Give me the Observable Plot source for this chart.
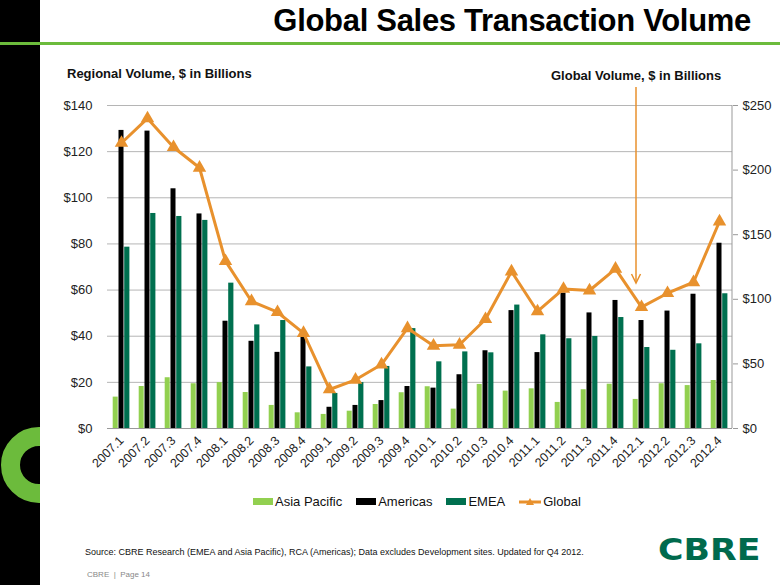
<!DOCTYPE html>
<html><head><meta charset="utf-8">
<script src="https://cdn.jsdelivr.net/npm/d3@7"></script>
<script src="https://cdn.jsdelivr.net/npm/@observablehq/plot@0.6"></script>
<style>
body{margin:0;width:780px;height:585px;overflow:hidden;background:#fff;font-family:"Liberation Sans",Arial,sans-serif;position:relative}
.abs{position:absolute}
#stripe{left:0;top:0;width:40px;height:585px;background:#000;overflow:hidden}
#greenline{left:0;top:42px;width:780px;height:3px;background:#6cbb3c}
#title{right:29px;top:3px;font-size:31px;font-weight:bold;color:#000;letter-spacing:-0.3px}
.lab{font-size:13px;font-weight:bold;color:#111}
#legend{top:494px;left:253px;display:flex;gap:0;font-size:13px;color:#111;align-items:center}
.item{display:flex;align-items:center;margin-right:14px}
.sw{width:20px;height:7px;margin-right:2px}
#source{left:85px;top:547px;font-size:9px;color:#111}
#page{left:87px;top:570px;font-size:8px;color:#888}
#logo{left:658px;top:531px;font-size:31px;font-weight:900;color:#006a4d;font-family:"DejaVu Sans",sans-serif;transform:scaleX(1.12);transform-origin:left top}
</style></head><body>
<div id="stripe" class="abs"><svg width="40" height="585"><circle cx="39" cy="465" r="28.5" fill="none" stroke="#6cbb3c" stroke-width="19"/></svg></div>
<div id="greenline" class="abs"></div>
<div id="title" class="abs">Global Sales Transaction Volume</div>
<div id="chart" class="abs" style="left:0;top:0"></div>
<div class="abs lab" style="left:67px;top:66px">Regional Volume, $ in Billions</div>
<div class="abs lab" style="left:551px;top:68px">Global Volume, $ in Billions</div>
<svg class="abs" style="left:0;top:0" width="780" height="585">
  <line x1="636" y1="87" x2="636" y2="283" stroke="#E8912D" stroke-width="1.5"/>
  <polyline points="631.5,274 636,283 640.5,274" fill="none" stroke="#E8912D" stroke-width="1.5"/>
</svg>
<div id="legend" class="abs"></div>
<div id="source" class="abs">Source: CBRE Research (EMEA and Asia Pacific), RCA (Americas); Data excludes Development sites. Updated for Q4 2012.</div>
<div id="page" class="abs">CBRE &nbsp;|&nbsp; Page 14</div>
<div id="logo" class="abs">CBRE</div>
<script>
const quarters = ["2007.1","2007.2","2007.3","2007.4","2008.1","2008.2","2008.3","2008.4","2009.1","2009.2","2009.3","2009.4","2010.1","2010.2","2010.3","2010.4","2011.1","2011.2","2011.3","2011.4","2012.1","2012.2","2012.3","2012.4"];
const asiaPacific = [13.6,18.2,22.0,19.4,19.9,15.6,10.0,6.8,6.1,7.5,10.4,15.5,18.1,8.4,19.1,16.2,17.2,11.3,16.8,19.2,12.6,19.4,18.6,20.8];
const americas = [129.2,128.9,103.9,93.0,46.5,37.8,33.0,39.9,9.2,10.0,12.1,18.2,17.5,23.3,33.7,51.1,32.9,58.7,50.1,55.5,46.8,50.9,58.2,80.3];
const emea = [78.6,93.2,91.9,90.2,63.0,44.9,46.8,26.7,15.2,19.9,26.9,43.3,28.9,33.2,32.8,53.5,40.6,38.9,39.9,48.1,35.1,33.9,36.7,58.4];
const globalVol = [221,240,217.7,201.8,129.5,98.5,90,73.8,30.2,37.7,49.5,77.6,64,64.8,84.6,121.5,90.6,108,106.8,123.6,93.9,104.7,113.2,160.2];
const leftTicks = [0,20,40,60,80,100,120,140];
const rightTicks = [0,50,100,150,200,250];
const seriesNames = ["Asia Pacific","Americas","EMEA","Global"];
const colors = {"Asia Pacific":"#92D050","Americas":"#000000","EMEA":"#00704F","Global":"#E8912D"};

const leftMax = 140, rightMax = 250;
const toLeft = v => v * leftMax / rightMax;
const rows = quarters.map((q,i) => ({q, ap: asiaPacific[i], am: americas[i], em: emea[i], gl: globalVol[i]}));

const chart = Plot.plot({
  width: 780, height: 585,
  marginLeft: 107, marginRight: 48, marginTop: 105, marginBottom: 157,
  style: {fontFamily: '"Liberation Sans", Arial, sans-serif', background: "transparent", color: "#222"},
  x: {domain: quarters, padding: 0},
  y: {domain: [0, leftMax]},
  marks: [
    Plot.gridY(leftTicks, {stroke: "#b5b5b5", strokeOpacity: 1}),
    Plot.barY(rows, {x: "q", y: "ap", fill: colors["Asia Pacific"], insetLeft: 4.7, insetRight: 16.3}),
    Plot.barY(rows, {x: "q", y: "am", fill: colors["Americas"], insetLeft: 10.5, insetRight: 10.5}),
    Plot.barY(rows, {x: "q", y: "em", fill: colors["EMEA"], insetLeft: 16.2, insetRight: 4.6}),
    Plot.ruleY([0], {stroke: "#999"}),
    Plot.lineY(rows, {x: "q", y: d => toLeft(d.gl), stroke: colors["Global"], strokeWidth: 3, strokeLinejoin: "miter"}),
    Plot.dot(rows, {x: "q", y: d => toLeft(d.gl), symbol: "triangle", fill: colors["Global"], r: 5}),
    Plot.axisY(leftTicks, {anchor: "left", tickFormat: d => "$" + d, tickSize: 0, tickPadding: 15, fontSize: 13, label: null}),
    Plot.axisY(rightTicks.map(toLeft), {anchor: "right", tickFormat: d => "$" + Math.round(d * rightMax / leftMax), tickSize: 5, tickPadding: 5, fontSize: 13, stroke: "#999", label: null}),
    Plot.axisX({tickRotate: -45, tickSize: 0, tickPadding: 10, fontSize: 12.5, label: null})
  ]
});
document.getElementById("chart").appendChild(chart);
// right axis line
d3.select(chart).append("line").attr("x1", 732).attr("x2", 732).attr("y1", 105).attr("y2", 428).attr("stroke", "#999");

const legend = document.getElementById("legend");
seriesNames.forEach(n => {
  const it = document.createElement("div"); it.className = "item";
  if (n === "Global") {
    it.innerHTML = `<svg width="22" height="10" style="margin-right:2px"><line x1="0" y1="5" x2="22" y2="5" stroke="${colors[n]}" stroke-width="3"/><path d="M11,1 L15,8 L7,8 Z" fill="${colors[n]}"/></svg><span>${n}</span>`;
  } else {
    it.innerHTML = `<div class="sw" style="background:${colors[n]}"></div><span>${n}</span>`;
  }
  legend.appendChild(it);
});
</script>
</body></html>
